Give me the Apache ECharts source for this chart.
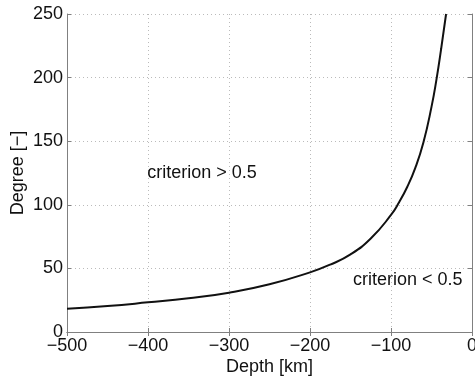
<!DOCTYPE html>
<html>
<head>
<meta charset="utf-8">
<script src="https://cdn.jsdelivr.net/npm/echarts@6/dist/echarts.min.js"></script>
<style>
  html, body { margin: 0; padding: 0; background: #fff; }
  #chart { width: 475px; height: 381px; }
</style>
</head>
<body>
<div id="chart"></div>
<script>
// depth [km] and degree
const depth = [-500, -450, -400, -350, -300, -250, -200, -175, -150, -125, -100, -90, -80, -70, -60, -50, -44, -38, -32]
const degree = [18.3, 20.4, 23.3, 26.5, 30.9, 37.5, 46.9, 53, 61, 73.5, 92, 102, 114, 129, 149, 177, 198, 223, 250]

// region labels, anchored at their left edge
const noteText = ['criterion > 0.5', 'criterion < 0.5']
const noteX = [-401, -147]
const noteY = [125, 40.5]

const font = 'Liberation Sans, Arial, Helvetica, sans-serif'
const axisColor = '#808080'

const tickStyle = { show: true, inside: true, length: 4, lineStyle: { color: axisColor } }

const chart = echarts.init(document.getElementById('chart'))

chart.setOption({
  animation: false,
  grid: { left: 67, right: 3, top: 14, bottom: 49, outerBoundsMode: 'none' },
  xAxis: [
    {
      type: 'value',
      min: -500,
      max: 0,
      interval: 100,
      name: 'Depth [km]',
      nameLocation: 'middle',
      nameGap: 26,
      nameMoveOverlap: false,
      nameTextStyle: { fontFamily: font, fontSize: 18, color: '#111' },
      axisLine: { show: true, onZero: false, lineStyle: { color: axisColor } },
      axisTick: tickStyle,
      axisLabel: {
        margin: 5,
        fontFamily: font,
        fontSize: 18,
        color: '#111',
        formatter: (v) => (v < 0 ? '\u2212' + Math.abs(v) : String(v))
      },
      splitLine: { show: true, lineStyle: { type: [1, 3], color: '#bbb' } }
    },
    {
      type: 'value',
      position: 'top',
      min: -500,
      max: 0,
      interval: 100,
      axisLine: { show: true, lineStyle: { color: axisColor } },
      axisTick: tickStyle,
      axisLabel: { show: false },
      splitLine: { show: false }
    }
  ],
  yAxis: [
    {
      type: 'value',
      min: 0,
      max: 250,
      interval: 50,
      name: 'Degree [\u2212]',
      nameLocation: 'middle',
      nameGap: 40,
      nameMoveOverlap: false,
      nameTextStyle: { fontFamily: font, fontSize: 18, color: '#111' },
      axisLine: { show: true, onZero: false, lineStyle: { color: axisColor } },
      axisTick: tickStyle,
      axisLabel: { margin: 4, fontFamily: font, fontSize: 18, color: '#111' },
      splitLine: { show: true, lineStyle: { type: [1, 3], color: '#bbb' } }
    },
    {
      type: 'value',
      position: 'right',
      min: 0,
      max: 250,
      interval: 50,
      axisLine: { show: true, lineStyle: { color: axisColor } },
      axisTick: tickStyle,
      axisLabel: { show: false },
      splitLine: { show: false }
    }
  ],
  series: [
    {
      type: 'line',
      data: depth.map((d, i) => [d, degree[i]]),
      smooth: 0.5,
      symbol: 'none',
      clip: true,
      lineStyle: { color: '#111', width: 2 }
    },
    {
      type: 'scatter',
      symbolSize: 0,
      itemStyle: { opacity: 1 },
      data: noteText.map((t, i) => ({ value: [noteX[i], noteY[i]], name: t })),
      label: {
        show: true,
        position: 'right',
        distance: 0,
        formatter: (p) => p.name,
        fontFamily: font,
        fontSize: 18,
        color: '#111'
      }
    }
  ]
})
</script>
</body>
</html>
